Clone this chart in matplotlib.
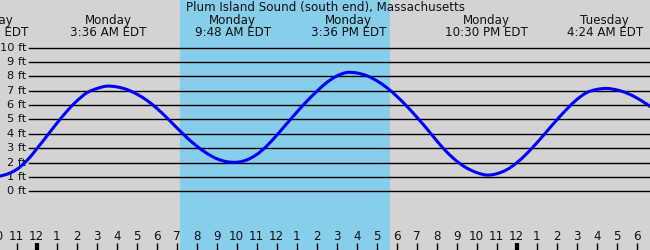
import matplotlib
matplotlib.use("Agg")
import matplotlib.pyplot as plt
import matplotlib.transforms as mtransforms
from matplotlib.path import Path
from matplotlib.patches import PathPatch
import numpy as np

# ---------------- data ----------------
title = "Plum Island Sound (south end), Massachusetts"

# hours relative to Monday 00:00 (local EDT), half-hour steps
hours = [-2.0, -1.5, -1.0, -0.5, 0.0, 0.5, 1.0, 1.5, 2.0, 2.5, 3.0, 3.5,
         4.0, 4.5, 5.0, 5.5, 6.0, 6.5, 7.0, 7.5, 8.0, 8.5, 9.0, 9.5,
         10.0, 10.5, 11.0, 11.5, 12.0, 12.5, 13.0, 13.5, 14.0, 14.5, 15.0, 15.5,
         16.0, 16.5, 17.0, 17.5, 18.0, 18.5, 19.0, 19.5, 20.0, 20.5, 21.0, 21.5,
         22.0, 22.5, 23.0, 23.5, 24.0, 24.5, 25.0, 25.5, 26.0, 26.5, 27.0, 27.5,
         28.0, 28.5, 29.0, 29.5, 30.0, 30.5, 31.0]
height_ft = [1.02, 1.18, 1.52, 2.12, 2.95, 3.83, 4.72, 5.56, 6.28, 6.85, 7.15, 7.32,
             7.27, 7.09, 6.77, 6.34, 5.78, 5.13, 4.43, 3.75, 3.15, 2.65, 2.27, 2.06,
             2.02, 2.18, 2.56, 3.15, 3.90, 4.70, 5.50, 6.26, 6.95, 7.57, 8.02, 8.27,
             8.24, 8.05, 7.70, 7.22, 6.62, 5.93, 5.17, 4.37, 3.52, 2.74, 2.10, 1.62,
             1.30, 1.13, 1.22, 1.50, 1.98, 2.62, 3.36, 4.16, 4.96, 5.71, 6.38, 6.87,
             7.09, 7.16, 7.06, 6.84, 6.50, 6.07, 5.58]

# tide events (hours from Monday 00:00) and their labels
event_hours = [-2.3, 3.6, 9.8, 15.6, 22.5, 28.4]
event_days = ["Sunday", "Monday", "Monday", "Monday", "Monday", "Tuesday"]
event_times = ["9:42 PM EDT", "3:36 AM EDT", "9:48 AM EDT", "3:36 PM EDT",
               "10:30 PM EDT", "4:24 AM EDT"]

# daylight window (sunrise / sunset, hours)
sunrise = 7.17
sunset = 17.67

# y gridlines
grid_ft = [0, 1, 2, 3, 4, 5, 6, 7, 8, 9, 10]
grid_labels = ["0 ft", "1 ft", "2 ft", "3 ft", "4 ft", "5 ft", "6 ft",
               "7 ft", "8 ft", "9 ft", "10 ft"]

# hour ticks
tick_hours = [-2, -1, 0, 1, 2, 3, 4, 5, 6, 7, 8, 9, 10, 11, 12, 13, 14, 15, 16,
              17, 18, 19, 20, 21, 22, 23, 24, 25, 26, 27, 28, 29, 30, 31]
tick_labels = ["10", "11", "12", "1", "2", "3", "4", "5", "6", "7", "8", "9",
               "10", "11", "12", "1", "2", "3", "4", "5", "6", "7", "8", "9",
               "10", "11", "12", "1", "2", "3", "4", "5", "6", "7"]
midnight_hours = [0, 24]

# ---------------- figure ----------------
W, H = 650, 250
fig = plt.figure(figsize=(W / 100, H / 100), dpi=100)
fig.patch.set_facecolor("#d3d3d3")
ax = fig.add_axes([0, 0, 1, 1])
ax.set_facecolor("#d3d3d3")
ax.set_xlim(-1.835, 30.665)
ax.set_ylim(-4.09, 13.32)
ax.axis("off")

FS = 8.6
txt_color = "#111111"
blend = mtransforms.blended_transform_factory(ax.transData, ax.transAxes)
blend_y = mtransforms.blended_transform_factory(ax.transAxes, ax.transData)

# daylight shading
ax.axvspan(sunrise, sunset, color="#87ceeb", zorder=1, lw=0)

# gridlines + labels
gx0 = 29 / W
for v, lab in zip(grid_ft, grid_labels):
    ax.axhline(v, xmin=gx0, xmax=1, color="black", lw=1.0, zorder=2)
    ax.text(26.5 / W, v, lab, transform=blend_y, ha="right", va="center",
            fontsize=8.2, color=txt_color, zorder=3)

# tide curve: smooth path through the data points (Catmull-Rom as Bezier)
P = np.column_stack([hours, height_ft])
verts = [tuple(P[0])]
codes = [Path.MOVETO]
n = len(P)
for i in range(n - 1):
    p0 = P[i - 1] if i > 0 else P[i]
    p1 = P[i]
    p2 = P[i + 1]
    p3 = P[i + 2] if i + 2 < n else P[i + 1]
    c1 = p1 + (p2 - p0) / 6.0
    c2 = p2 - (p3 - p1) / 6.0
    verts += [tuple(c1), tuple(c2), tuple(p2)]
    codes += [Path.CURVE4, Path.CURVE4, Path.CURVE4]
ax.add_patch(PathPatch(Path(verts, codes), facecolor="none", edgecolor="#0000ff",
                       lw=2.2, zorder=4, capstyle="round", joinstyle="round"))

# title
ax.text(0.5, 1 - 10.5 / H, title, transform=ax.transAxes, ha="center",
        va="baseline", fontsize=FS, color=txt_color)

# event labels
for t, d, s in zip(event_hours, event_days, event_times):
    ax.text(t, 1 - 24 / H, d, transform=blend, ha="center", va="baseline",
            fontsize=FS, color=txt_color)
    ax.text(t, 1 - 36.5 / H, s, transform=blend, ha="center", va="baseline",
            fontsize=FS, color=txt_color)

# hour ticks
for t, lab in zip(tick_hours, tick_labels):
    lw = 3 if t in midnight_hours else 1.0
    ax.plot([t, t], [0, 7 / H], transform=blend, color="black", lw=lw,
            solid_capstyle="butt", zorder=3)
    ax.text(t, 1 - 236 / H, lab, transform=blend, ha="center", va="center",
            fontsize=FS, color=txt_color)

fig.savefig("out.png", dpi=100, facecolor=fig.get_facecolor())
